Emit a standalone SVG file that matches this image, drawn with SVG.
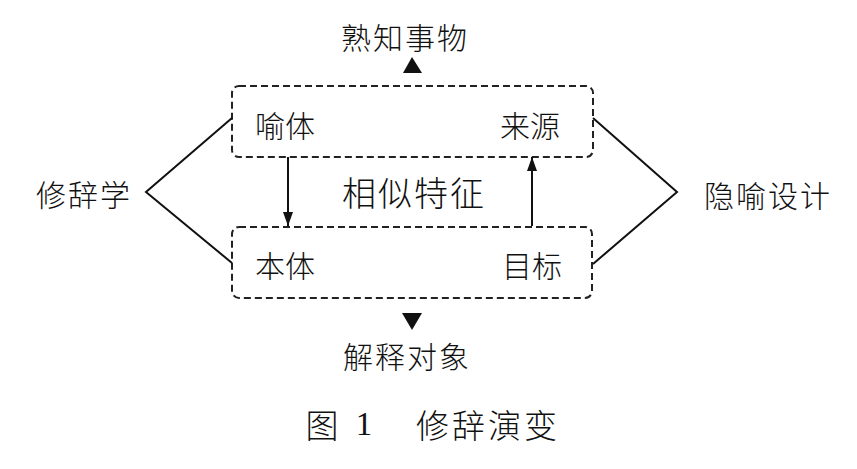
<svg xmlns="http://www.w3.org/2000/svg" width="857" height="469" viewBox="0 0 857 469">
<style>
.t{font-family:"Noto Sans CJK SC","Noto Sans CJK JP",sans-serif;font-weight:300;font-size:30px;fill:#111;text-anchor:middle;dominant-baseline:central}
.box{fill:none;stroke:#222;stroke-width:2;stroke-dasharray:7,4}
.ln{fill:none;stroke:#111;stroke-width:2}
</style>
<defs>
<marker id="ah" viewBox="0 0 14 12" refX="14" refY="6" markerWidth="14" markerHeight="12" markerUnits="userSpaceOnUse" orient="auto">
<path d="M0,1 L14,6 L0,11 Z" fill="#111"/>
</marker>
</defs>
<rect width="857" height="469" fill="#fff"/>
<g id="source-box">
<rect class="box" x="232" y="86" width="361" height="71" rx="7"/>
<text class="t" x="285" y="124">喻体</text>
<text class="t" x="530" y="124">来源</text>
</g>
<g id="target-box">
<rect class="box" x="232" y="227" width="360" height="71" rx="7"/>
<text class="t" x="285" y="264">本体</text>
<text class="t" x="532" y="264">目标</text>
</g>
<g id="similar"><text class="t" x="414" y="191" style="font-size:34px;letter-spacing:2px">相似特征</text></g>
<g id="familiar"><text class="t" x="405" y="36" style="letter-spacing:2px">熟知事物</text></g>
<g id="explain"><text class="t" x="407" y="355" style="letter-spacing:2px">解释对象</text></g>
<g id="rhetoric"><text class="t" x="84" y="193" style="letter-spacing:2px">修辞学</text></g>
<g id="metaphor-design"><text class="t" x="768" y="194" style="letter-spacing:2px">隐喻设计</text></g>
<g id="connectors">
<polyline class="ln" points="232,118 146,192 232,263"/>
<polyline class="ln" points="593,118 677,192 593,264"/>
<line class="ln" x1="288" y1="157" x2="288" y2="226" marker-end="url(#ah)"/>
<line class="ln" x1="532" y1="226" x2="532" y2="157" marker-end="url(#ah)"/>
<polygon points="412,57 403,73 422,73" fill="#111"/>
<polygon points="402,313 422,313 412,330" fill="#111"/>
</g>
<g id="caption">
<text class="t" x="322" y="424" style="font-size:33px">图</text>
<text class="t" x="364" y="424" style="font-size:33px;font-family:'Liberation Serif',serif">1</text>
<text class="t" x="488" y="424" style="font-size:33px;letter-spacing:3px">修辞演变</text>
</g>
</svg>
